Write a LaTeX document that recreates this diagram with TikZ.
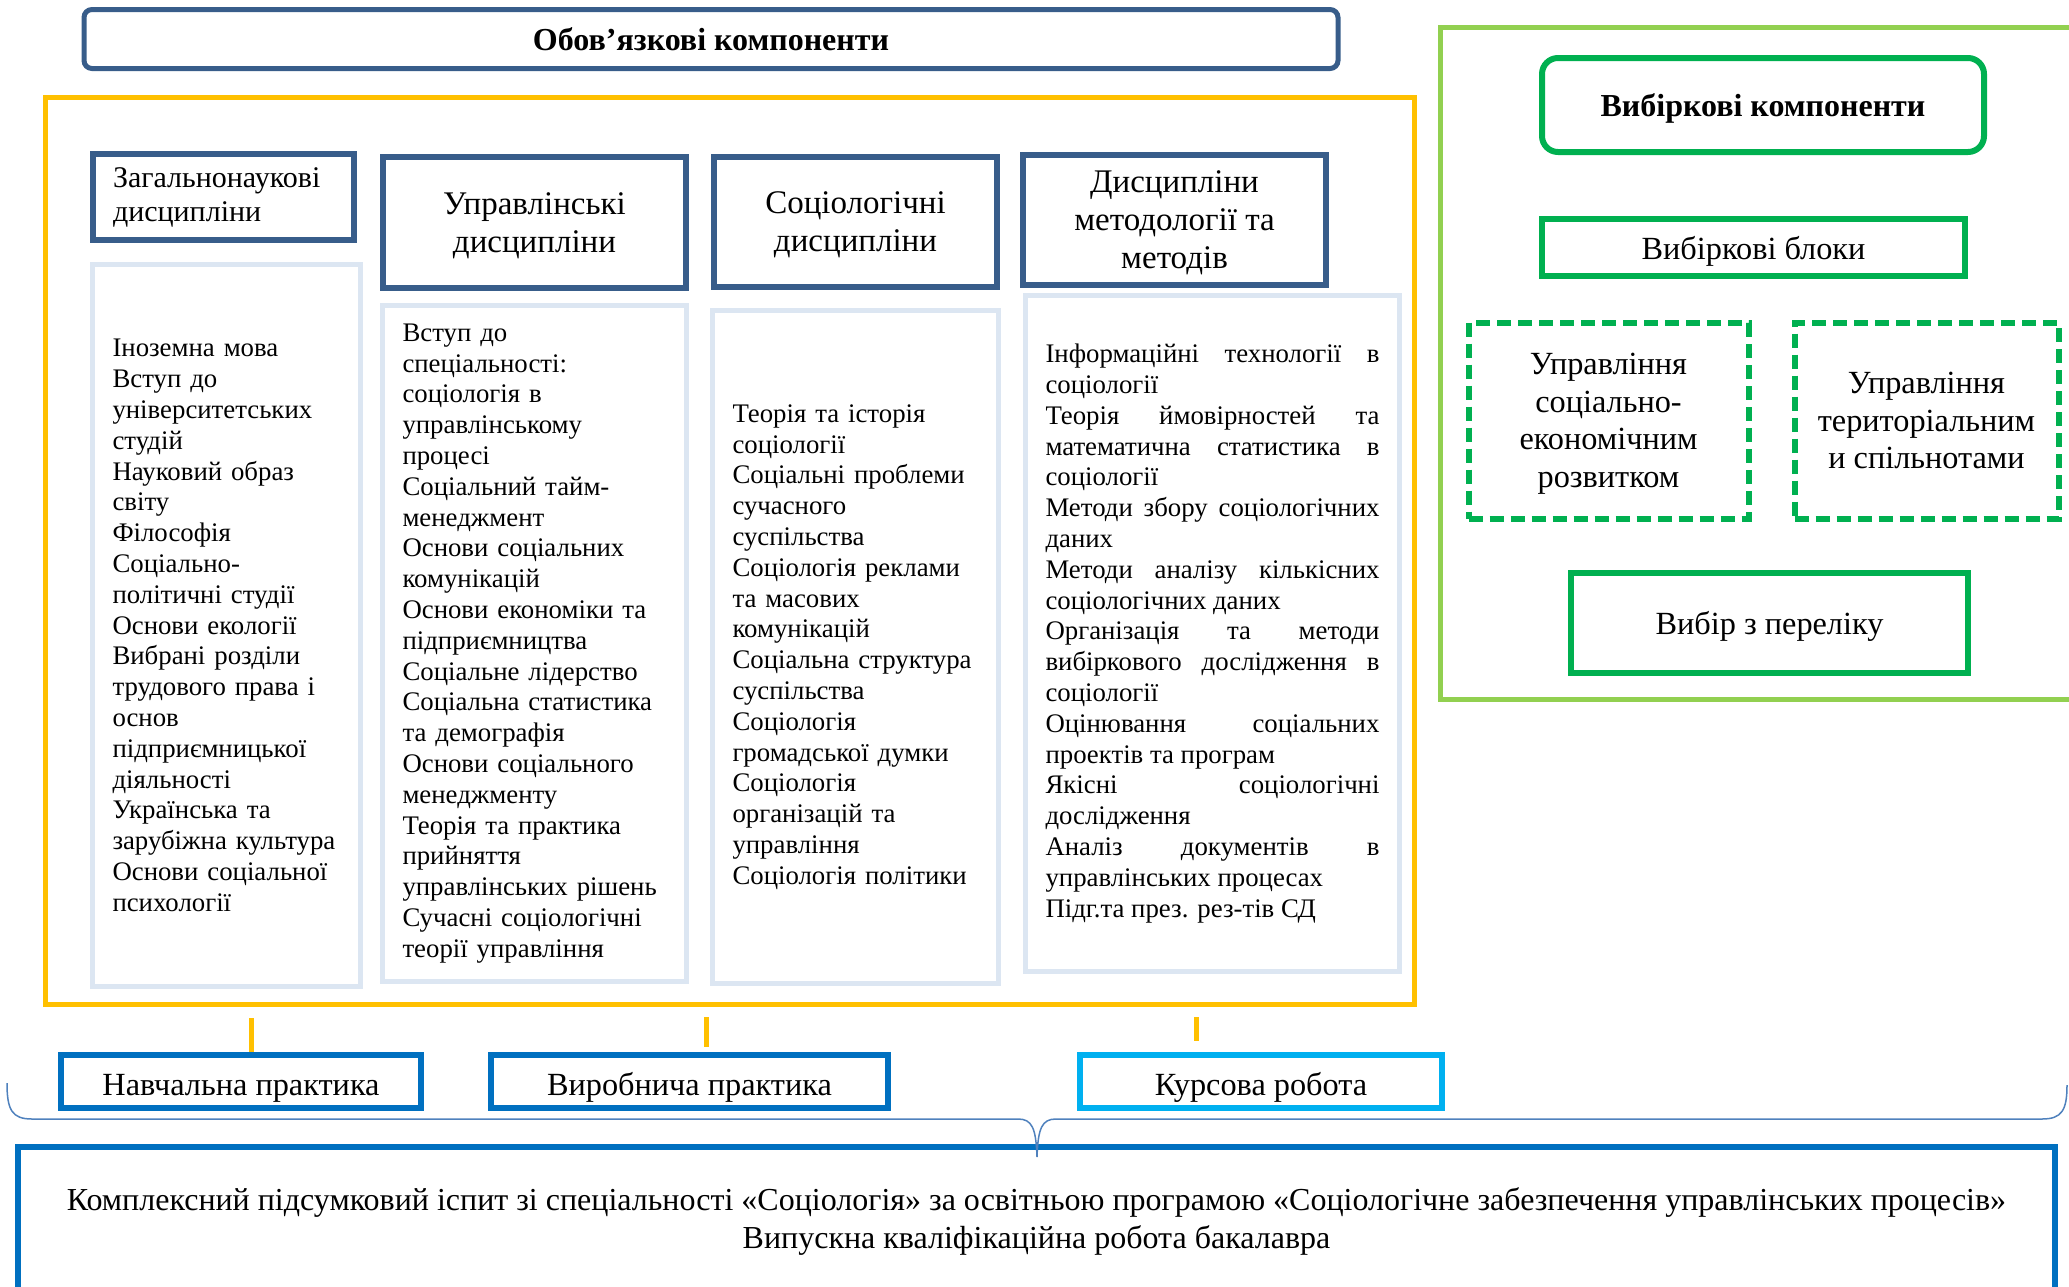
\documentclass[tikz,border=0pt]{standalone}
\usepackage{fontspec}
\setmainfont{Liberation Serif}
\hyphenpenalty=10000
\exhyphenpenalty=10000

\definecolor{darkblue}{RGB}{56,93,138}
\definecolor{goldline}{RGB}{255,192,0}
\definecolor{paleblue}{RGB}{220,230,242}
\definecolor{limegreen}{RGB}{146,208,80}
\definecolor{deepgreen}{RGB}{0,176,80}
\definecolor{midblue}{RGB}{0,112,192}
\definecolor{skyblue}{RGB}{0,176,240}
\definecolor{bracecol}{RGB}{79,129,189}

\tikzstyle{headbox} = [draw=darkblue,line width=6pt,font=\fontsize{33}{38}\selectfont,align=center]
\tikzstyle{lowtext} = [text depth=0pt]
\tikzstyle{listbox} = [draw=paleblue,line width=5pt,font=\fontsize{26.8}{30.8}\selectfont,align=left,inner xsep=20pt]
\tikzstyle{selbox} = [draw=deepgreen,line width=6pt,font=\fontsize{32.3}{37.5}\selectfont,align=center,lowtext]
\tikzstyle{pracbox} = [draw=midblue,line width=6pt,font=\fontsize{32.3}{38}\selectfont,text height=36pt,text depth=8pt]
\tikzstyle{tickline} = [draw=goldline,line width=5pt]

\begin{document}
\begin{tikzpicture}[x=1pt,y=-1pt]
	\useasboundingbox (0,0) rectangle (2069,1286);
	\clip (0,0) rectangle (2069,1286);

	\node[draw=darkblue,line width=5pt,rounded corners=8pt,minimum width=1254pt,minimum height=59pt,font=\fontsize{32}{36}\selectfont\bfseries] (title) at (711,39) {Обов’язкові компоненти};
	\node[draw=goldline,line width=5pt,minimum width=1369pt,minimum height=907pt] (comp) at (730,551) {};

	\node[headbox,font=\fontsize{30}{34}\selectfont,align=left,text width=221pt,minimum height=86pt,inner xsep=20pt] (h1) at (223.5,197) {Загальнонаукові\\дисципліни};
	\node[headbox,lowtext,minimum width=303pt,minimum height=131pt] (h2) at (534.5,222.5) {Управлінські\\дисципліни};
	\node[headbox,lowtext,minimum width=283pt,minimum height=130pt] (h3) at (855.5,222) {Соціологічні\\дисципліни};
	\node[headbox,lowtext,minimum width=303pt,minimum height=130pt] (h4) at (1174.5,220) {Дисципліни\\методології та\\методів};

	\node[listbox,text width=228pt,minimum height=722pt] (c1) at (226.5,625.5) {Іноземна мова\\Вступ до\\університетських\\студій\\Науковий образ\\світу\\Філософія\\Соціально-\\політичні студії\\Основи екології\\Вибрані розділи\\трудового права і\\основ\\підприємницької\\діяльності\\Українська та\\зарубіжна культура\\Основи соціальної\\психології};
	\node[listbox,text width=264pt,minimum height=676pt] (c2) at (534.5,643.5) {Вступ до\\спеціальності:\\соціологія в\\управлінському\\процесі\\Соціальний тайм-\\менеджмент\\Основи соціальних\\комунікацій\\Основи економіки та\\підприємництва\\Соціальне лідерство\\Соціальна статистика\\та демографія\\Основи соціального\\менеджменту\\Теорія та практика\\прийняття\\управлінських рішень\\Сучасні соціологічні\\теорії управління};
	\node[listbox,text width=246pt,minimum height=673pt] (c3) at (855.5,647) {Теорія та історія\\соціології\\Соціальні проблеми\\сучасного\\суспільства\\Соціологія реклами\\та масових\\комунікацій\\Соціальна структура\\суспільства\\Соціологія\\громадської думки\\Соціологія\\організацій та\\управління\\Соціологія політики};
	\node[listbox,align=justify,text width=334pt,minimum height=676pt] (c4) at (1212.5,633.5) {Інформаційні технології в\break соціології\par Теорія ймовірностей та\break математична статистика в\break соціології\par Методи збору соціологічних\break даних\par Методи аналізу кількісних\break соціологічних даних\par Організація та методи\break вибіркового дослідження в\break соціології\par Оцінювання соціальних\break проектів та програм\par Якісні соціологічні\break дослідження\par Аналіз документів в\break управлінських процесах\par Підг.та през. рез-тів СД};

	\node[draw=limegreen,line width=5pt,minimum width=637pt,minimum height=672pt] (sel) at (1759,363.5) {};
	\node[selbox,rounded corners=16pt,minimum width=442pt,minimum height=94pt,font=\fontsize{32}{36}\selectfont\bfseries] (selc) at (1763,105) {Вибіркові компоненти};
	\node[selbox,minimum width=423pt,minimum height=57pt] (selb) at (1753.5,247.5) {Вибіркові блоки};
	\node[selbox,dash pattern=on 14pt off 7pt,minimum width=280pt,minimum height=196pt] (d1) at (1608.5,420.5) {Управління\\соціально-\\економічним\\розвитком};
	\node[selbox,dash pattern=on 14pt off 7pt,minimum width=264pt,minimum height=196pt] (d2) at (1926.5,420.5) {Управління\\територіальним\\и спільнотами};
	\node[selbox,minimum width=397pt,minimum height=100pt] (pick) at (1769.5,623) {Вибір з переліку};

	\node[pracbox,minimum width=360pt,minimum height=53pt] (nav) at (241,1081.5) {Навчальна практика};
	\node[pracbox,minimum width=397pt,minimum height=53pt] (vyr) at (689.5,1081.5) {Виробнича практика};
	\node[pracbox,draw=skyblue,minimum width=362pt,minimum height=53pt] (kurs) at (1261,1081.5) {Курсова робота};
	\node[draw=midblue,line width=6pt,font=\fontsize{32}{38}\selectfont,align=center,minimum width=2037pt,minimum height=149pt] (exam) at (1036.5,1221.5) {Комплексний підсумковий іспит зі спеціальності «Соціологія» за освітньою програмою «Соціологічне забезпечення управлінських процесів»\\Випускна кваліфікаційна робота бакалавра};

	\coordinate (t1) at (251,1018);
	\coordinate (t2) at (706,1017);
	\coordinate (t3) at (1196,1017);
	\draw[tickline] (t1) -- (t1 |- nav.north);
	\draw[tickline,shorten >=5pt] (t2) -- (t2 |- vyr.north);
	\draw[tickline,shorten >=11pt] (t3) -- (t3 |- kurs.north);

	\draw[bracecol,line width=1.5pt] (7,1083) .. controls (7,1110) and (12,1119) .. (32,1119) -- (1018,1119) .. controls (1032,1119) and (1036,1128) .. (1037,1157) .. controls (1038,1128) and (1042,1119) .. (1056,1119) -- (2042,1119) .. controls (2062,1119) and (2067,1110) .. (2067,1085);
\end{tikzpicture}
\end{document}
